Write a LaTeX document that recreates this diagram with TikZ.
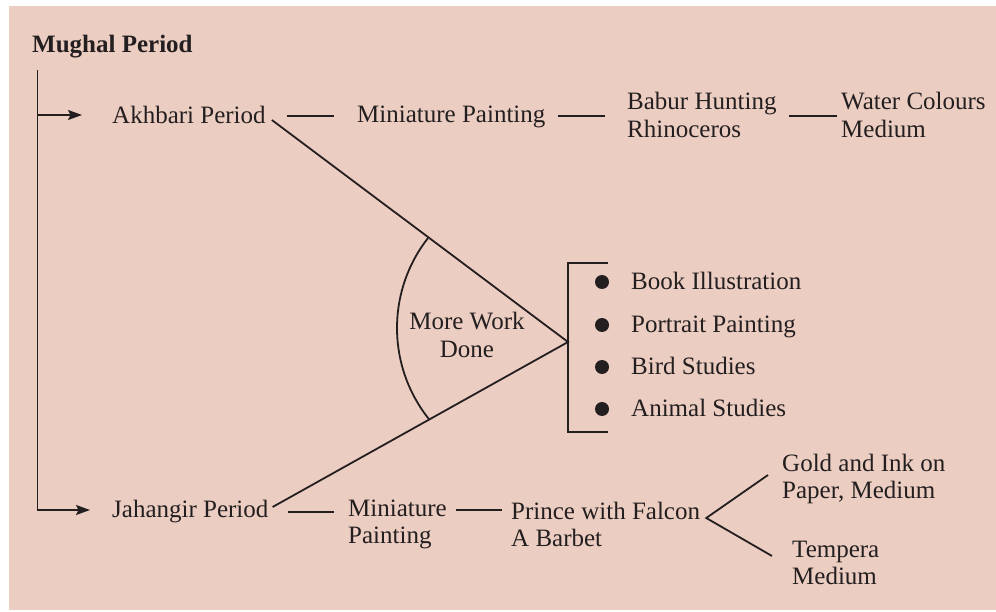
\documentclass[tikz,border=0pt]{standalone}
\usepackage{fontspec}
\setmainfont{Liberation Serif}
\usetikzlibrary{arrows.meta,calc}
\definecolor{bgc}{RGB}{236,205,193}
\definecolor{ink}{RGB}{35,31,32}
\newcommand{\twoline}[2]{\begin{tabular}[t]{@{}l@{}}#1\\#2\end{tabular}}
\newcommand{\twolinec}[2]{\begin{tabular}[t]{@{}c@{}}#1\\#2\end{tabular}}
\begin{document}
\begin{tikzpicture}[x=1pt,y=1pt,
  txt/.style={inner sep=0pt, text=ink, font=\fontsize{25}{27.5}\selectfont, anchor=base west},
  conn/.style={draw=ink, line width=1.8pt},
  arr/.style={conn, -{Stealth[length=14pt,width=10pt,inset=2.5pt]}},
  bullet/.style={circle, fill=ink, inner sep=0pt, minimum size=14pt}]
\useasboundingbox (0,0) rectangle (996,611);
\fill[bgc] (9,1) rectangle (996,605);

% texts
\node[txt, font=\fontsize{25}{27.5}\selectfont\bfseries] (title) at (32,558) {Mughal Period};
\node[txt] (akb) at (112,487) {Akhbari Period};
\node[txt] (min1) at (357,488) {Miniature Painting};
\node[txt] (bab) at (627,501) {\twoline{Babur Hunting}{Rhinoceros}};
\node[txt] (wat) at (841,501) {\twoline{Water Colours}{Medium}};
\node[txt, anchor=base] (more) at (467,281) {\twolinec{More Work}{Done}};
\node[txt] (book) at (631,321) {Book Illustration};
\node[txt] (port) at (631,278) {Portrait Painting};
\node[txt] (bird) at (631,236) {Bird Studies};
\node[txt] (anim) at (631,194) {Animal Studies};
\node[txt] (jah) at (112,94) {Jahangir Period};
\node[txt] (min2) at (348,95) {\twoline{Miniature}{Painting}};
\node[txt] (pri) at (511,92) {\twoline{Prince with Falcon}{A Barbet}};
\node[txt] (gold) at (782,140) {\twoline{Gold and Ink on}{Paper, Medium}};
\node[txt] (temp) at (792,54) {\twoline{Tempera}{Medium}};

% bullets
\foreach \n in {book,port,bird,anim}
  \node[bullet] (b-\n) at ([xshift=-29pt,yshift=8pt]\n.base west) {};

% main stem
\coordinate (vtop) at (37.5,541);
\coordinate (vmid) at (37.5,496);
\draw[arr] (vtop) |- ([xshift=-22pt,yshift=7pt]jah.base west);
\draw[arr] (vmid) -- ([xshift=-30pt,yshift=9pt]akb.base west);

% upper row
\draw[conn] ([xshift=21pt,yshift=8pt]akb.base east) -- ([xshift=-23pt,yshift=7pt]min1.base west);
\draw[conn] ([xshift=12pt,yshift=7pt]min1.base east) -- ([xshift=-22pt,yshift=-6pt]bab.base west);
\draw[conn] ([xshift=12pt,yshift=-6pt]bab.base east) -- ([xshift=-4pt,yshift=-6pt]wat.base west);

% wedge
\coordinate (apex) at (568,269);
\draw[conn] ([xshift=6pt,yshift=4pt]akb.base east) -- (apex) -- ([xshift=4pt,yshift=10pt]jah.base east);
\coordinate (arcc) at (543,283);
\draw[conn] (arcc) ++(142:146pt) arc[start angle=142, end angle=218.6, radius=146pt];

% bracket
\coordinate (btop) at (608,348);
\coordinate (bbot) at (608,179);
\draw[conn] (btop) -- (btop -| apex) -- (bbot -| apex) -- (bbot);

% lower row
\draw[conn] ([xshift=19pt,yshift=5pt]jah.base east) -- ([xshift=-14pt,yshift=4pt]min2.base west);
\draw[conn] ([xshift=9pt,yshift=6pt]min2.base east) -- ([xshift=-9pt,yshift=9pt]pri.base west);
\coordinate (fork) at ([xshift=6pt,yshift=1pt]pri.base east);
\draw[conn] ([xshift=-14pt,yshift=-4pt]gold.base west) -- (fork) -- ([xshift=-20pt,yshift=1pt]temp.base west);
\end{tikzpicture}
\end{document}
